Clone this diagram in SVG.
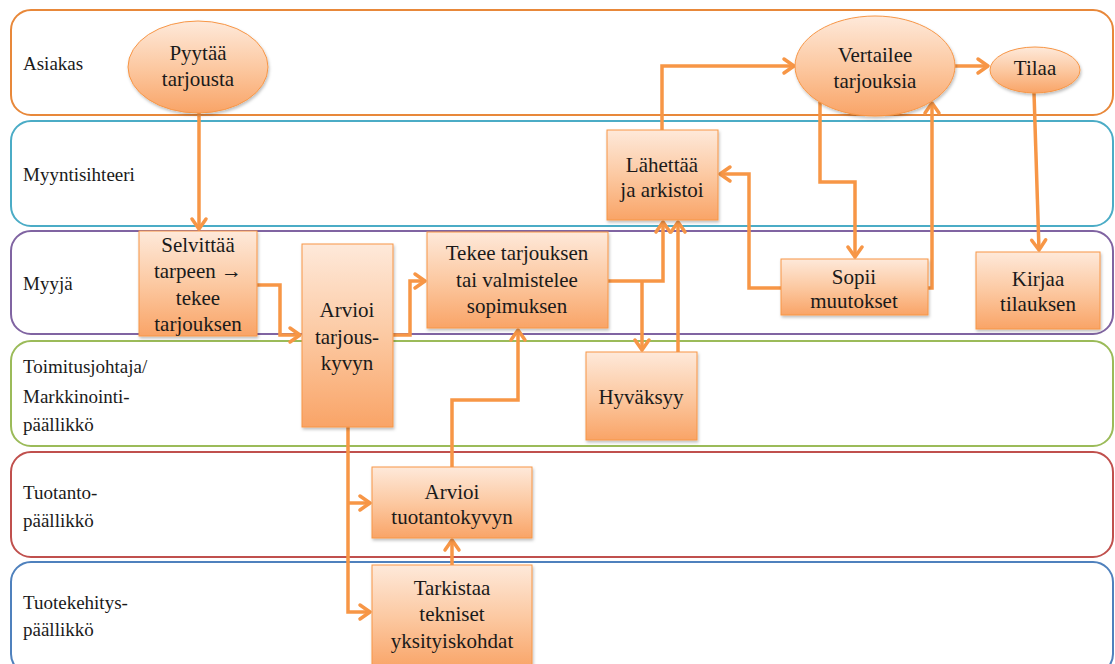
<svg xmlns="http://www.w3.org/2000/svg" width="1115" height="664" viewBox="0 0 1115 664">
<defs>
<linearGradient id="g" x1="0" y1="0" x2="0" y2="1">
<stop offset="0" stop-color="#FEE9DA"/>
<stop offset="0.5" stop-color="#FCC9A2"/>
<stop offset="1" stop-color="#F9A467"/>
</linearGradient>
<filter id="sh" x="-10%" y="-10%" width="130%" height="130%">
<feDropShadow dx="1" dy="2" stdDeviation="1.5" flood-color="#000" flood-opacity="0.25"/>
</filter>
<marker id="ar" markerUnits="userSpaceOnUse" viewBox="-3 -3 18 20" markerWidth="18" markerHeight="20" refX="10" refY="7" orient="auto">
<path d="M0,0 L10,7 L0,14" fill="none" stroke="#F79646" stroke-width="3.5" stroke-linejoin="round" stroke-linecap="round"/>
</marker>
<style>
.lane{fill:none;stroke-width:2}
.lt{font-size:19px;fill:#1a1a1a}
.node{fill:url(#g);stroke:#F79646;stroke-width:1;filter:url(#sh)}
.nt{font-family:Liberation Serif, serif;font-size:21px;fill:#1a1a1a;text-anchor:middle}
.c{fill:none;stroke:#F79646;stroke-width:3.5;marker-end:url(#ar)}
</style>
</defs>
<rect width="1115" height="664" fill="#fff"/>
<g id="lanes" font-family="Liberation Serif, serif">
<g id="lane-asiakas"><rect class="lane" x="11" y="10" width="1102" height="105" rx="20" stroke="#E8883A"/><text class="lt" x="23" y="70">Asiakas</text></g>
<g id="lane-myyntisihteeri"><rect class="lane" x="11" y="121" width="1102" height="105" rx="20" stroke="#4BACC6"/><text class="lt" x="23" y="181">Myyntisihteeri</text></g>
<g id="lane-myyja"><rect class="lane" x="11" y="231" width="1102" height="103" rx="20" stroke="#8064A2"/><text class="lt" x="23" y="290">Myyjä</text></g>
<g id="lane-toimitusjohtaja"><rect class="lane" x="11" y="341" width="1102" height="105" rx="20" stroke="#9BBB59"/><text class="lt" x="23" y="373">Toimitusjohtaja/</text><text class="lt" x="23" y="403">Markkinointi-</text><text class="lt" x="23" y="431">päällikkö</text></g>
<g id="lane-tuotanto"><rect class="lane" x="11" y="452" width="1102" height="105" rx="20" stroke="#C0504D"/><text class="lt" x="23" y="499">Tuotanto-</text><text class="lt" x="23" y="527">päällikkö</text></g>
<g id="lane-tuotekehitys"><rect class="lane" x="11" y="562" width="1102" height="112" rx="20" stroke="#4F81BD"/><text class="lt" x="23" y="609">Tuotekehitys-</text><text class="lt" x="23" y="636">päällikkö</text></g>
</g>
<g id="connectors">
<path class="c" d="M199,113 V229"/>
<path class="c" d="M257,285 H280 V335 H300"/>
<path class="c" d="M393,335 H410 V281 H425"/>
<path class="c" d="M348,427 V612 H370"/>
<path class="c" d="M348,503 H370"/>
<path class="c" d="M452,467 V400 H518 V330"/>
<path class="c" d="M452,565 V540"/>
<path class="c" d="M608,281 H663 V222"/>
<path class="c" d="M642,281 V350"/>
<path class="c" d="M678,352 V222"/>
<path class="c" d="M662,130 V66 H794"/>
<path class="c" d="M955,66 H988"/>
<path class="c" d="M820,102 V182 H855 V257"/>
<path class="c" d="M781,288 H749 V174 H720"/>
<path class="c" d="M928,288 H932 V103"/>
<path class="c" d="M1034,93 L1039,250"/>
</g>
<g id="n-pyytaa"><ellipse class="node" cx="198" cy="67" rx="70" ry="46"/><text class="nt" x="198" y="60">Pyytää</text><text class="nt" x="198" y="86">tarjousta</text></g>
<g id="n-vertailee"><ellipse class="node" cx="875" cy="66" rx="80" ry="50"/><text class="nt" x="875" y="62">Vertailee</text><text class="nt" x="875" y="88">tarjouksia</text></g>
<g id="n-tilaa"><ellipse class="node" cx="1035" cy="70" rx="45" ry="23"/><text class="nt" x="1035" y="75">Tilaa</text></g>
<g id="n-lahettaa"><rect class="node" x="607" y="130" width="111" height="90"/><text class="nt" x="662" y="172">Lähettää</text><text class="nt" x="662" y="197">ja arkistoi</text></g>
<g id="n-selvittaa"><rect class="node" x="139" y="231" width="118" height="105"/><text class="nt" x="198" y="252">Selvittää</text><text class="nt" x="198" y="278">tarpeen →</text><text class="nt" x="198" y="305">tekee</text><text class="nt" x="198" y="331">tarjouksen</text></g>
<g id="n-arvioi-tarjous"><rect class="node" x="302" y="244" width="91" height="183"/><text class="nt" x="347" y="317">Arvioi</text><text class="nt" x="347" y="344">tarjous-</text><text class="nt" x="347" y="370">kyvyn</text></g>
<g id="n-tekee"><rect class="node" x="427" y="232" width="181" height="96"/><text class="nt" x="517" y="260">Tekee tarjouksen</text><text class="nt" x="517" y="287">tai valmistelee</text><text class="nt" x="517" y="313">sopimuksen</text></g>
<g id="n-hyvaksyy"><rect class="node" x="586" y="352" width="111" height="88"/><text class="nt" x="641" y="404">Hyväksyy</text></g>
<g id="n-sopii"><rect class="node" x="781" y="259" width="147" height="56"/><text class="nt" x="854" y="284">Sopii</text><text class="nt" x="854" y="308">muutokset</text></g>
<g id="n-kirjaa"><rect class="node" x="976" y="252" width="124" height="77"/><text class="nt" x="1038" y="286">Kirjaa</text><text class="nt" x="1038" y="311">tilauksen</text></g>
<g id="n-arvioi-tuotanto"><rect class="node" x="372" y="467" width="160" height="71"/><text class="nt" x="452" y="499">Arvioi</text><text class="nt" x="452" y="524">tuotantokyvyn</text></g>
<g id="n-tarkistaa"><rect class="node" x="372" y="565" width="160" height="104"/><text class="nt" x="452" y="595">Tarkistaa</text><text class="nt" x="452" y="621">tekniset</text><text class="nt" x="452" y="648">yksityiskohdat</text></g>
</svg>
